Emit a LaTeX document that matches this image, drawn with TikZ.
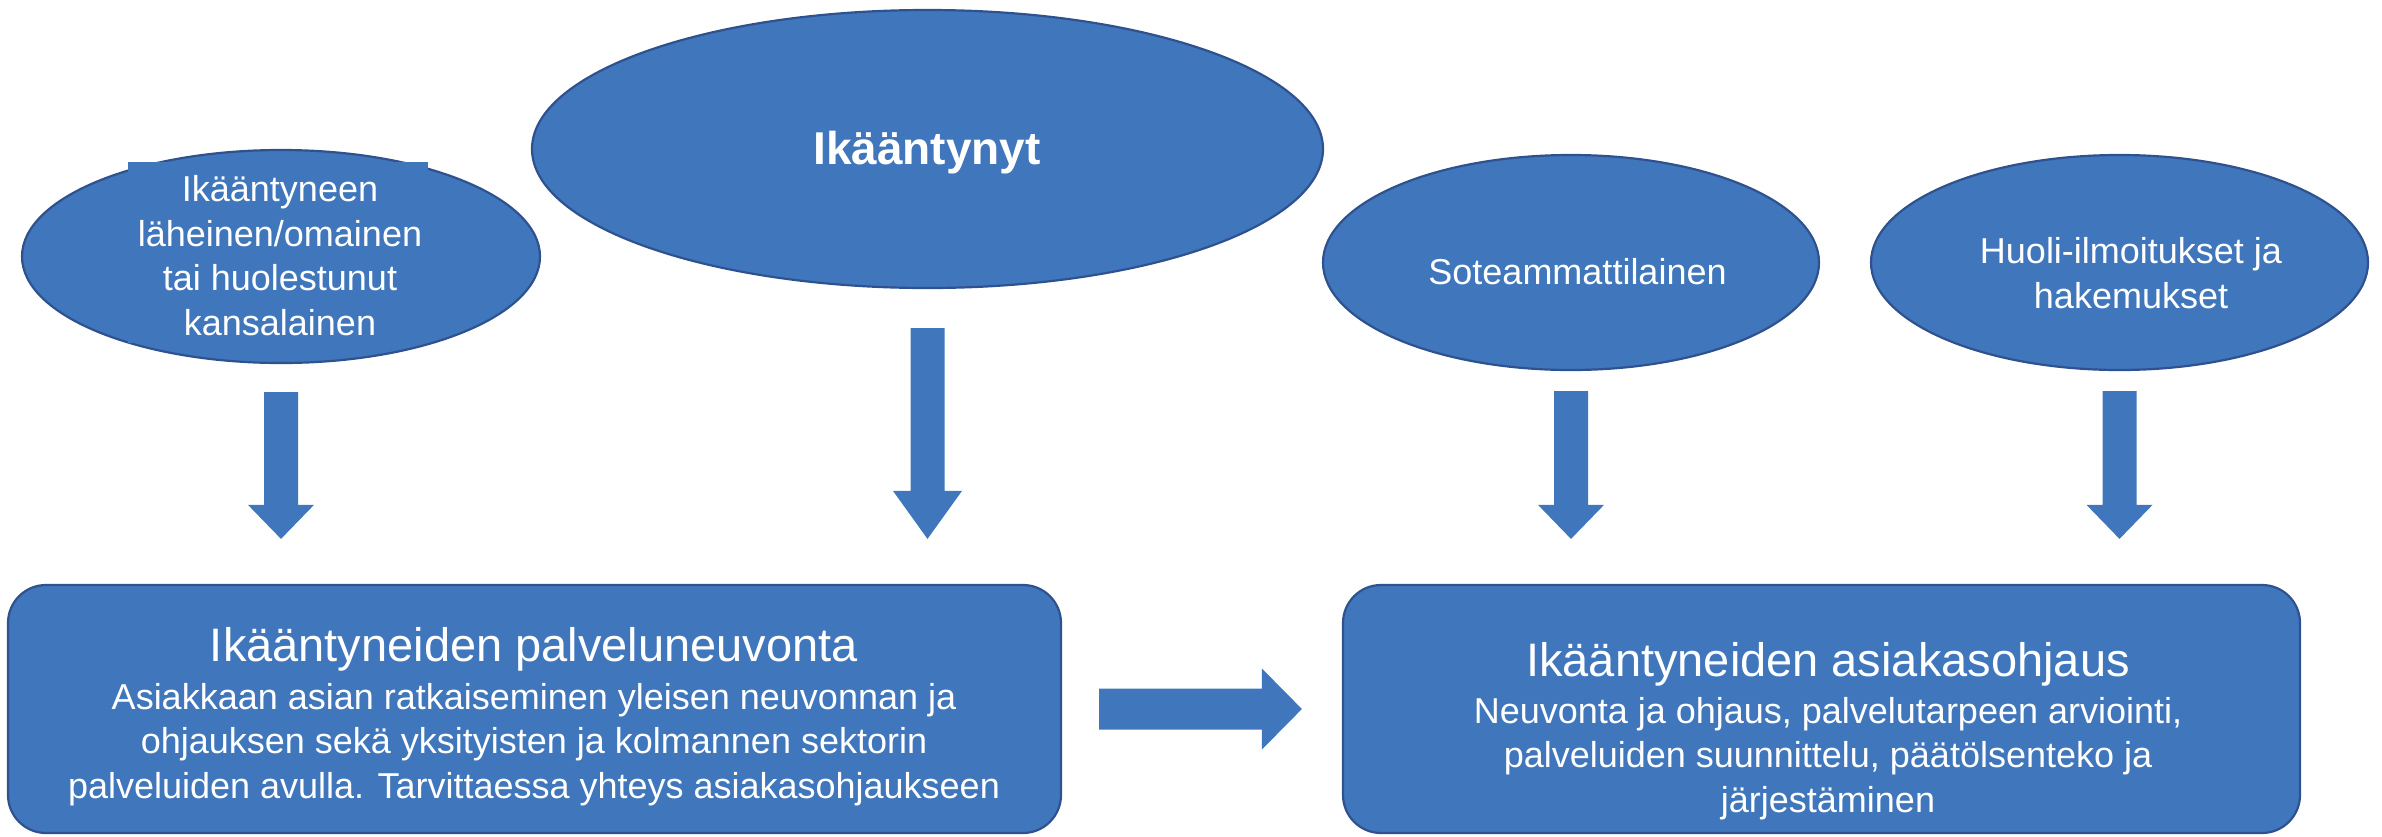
\documentclass[tikz,border=0pt]{standalone}
\usepackage{fontspec}
\setmainfont{Liberation Sans}
\usetikzlibrary{shapes.geometric,calc}
\definecolor{fillblue}{RGB}{63,118,188}
\definecolor{edgeblue}{RGB}{47,82,143}
\tikzset{
  shapefill/.style={fill=fillblue, draw=edgeblue, line width=2.2pt},
  oval/.style={shapefill, ellipse, inner sep=0pt},
  panel/.style={shapefill, rectangle, rounded corners=38pt, inner sep=0pt},
  frame/.style={fill=fillblue, rectangle, inner sep=0pt},
  txt/.style={text=white, align=center, inner sep=0pt, font=\fontsize{36}{44.5}\selectfont},
  blockarrow/.style={fill=fillblue},
}
% #1 start, #2 tip, #3 shaft half width, #4 head half width, #5 head length
\newcommand{\vblockarrow}[5]{%
  \fill[blockarrow] ($(#1)+(-#3,0)$) -- ($(#2)+(-#3,-#5)$) -- ($(#2)+(-#4,-#5)$) -- (#2)
    -- ($(#2)+(#4,-#5)$) -- ($(#2)+(#3,-#5)$) -- ($(#1)+(#3,0)$) -- cycle;}
\newcommand{\hblockarrow}[5]{%
  \fill[blockarrow] ($(#1)+(0,-#3)$) -- ($(#2)+(-#5,-#3)$) -- ($(#2)+(-#5,-#4)$) -- (#2)
    -- ($(#2)+(-#5,#4)$) -- ($(#2)+(-#5,#3)$) -- ($(#1)+(0,#3)$) -- cycle;}
\begin{document}
\begin{tikzpicture}[x=1pt,y=-1pt]
\useasboundingbox (0,0) rectangle (2382,836);

% source ellipses
\node[oval, minimum width=518pt, minimum height=213pt] (lel) at (281,256.5) {};
\node[oval, minimum width=791pt, minimum height=278pt] (cel) at (927.5,149) {};
\node[oval, minimum width=496pt, minimum height=215pt] (sel) at (1571,262.5) {};
\node[oval, minimum width=497pt, minimum height=215pt] (hel) at (2119.5,262.5) {};

% text frame in left ellipse
\node[frame, minimum width=300pt, minimum height=181pt] (lframe) at (278,252.5) {};

% texts of the ellipses (base anchor = baseline of the last line)
\node[txt, anchor=base] (ltext) at (280,335) {Ikääntyneen\\läheinen/omainen\\tai huolestunut\\kansalainen};
\node[txt, anchor=base, font=\bfseries\fontsize{46}{46}\selectfont] (ctext) at (927,164) {Ikääntynyt};
\node[txt, anchor=base] (stext) at (1577.5,284) {Soteammattilainen};
\node[txt, anchor=base] (htext) at (2131,308) {Huoli-ilmoitukset ja\\hakemukset};

% bottom panels
\node[panel, minimum width=1053pt, minimum height=248pt] (lbox) at (534.5,709) {};
\node[panel, minimum width=957pt, minimum height=248pt] (rbox) at (1821.5,709) {};

\node[txt, anchor=base] (lboxtext) at (534,798) {{\fontsize{47}{47}\selectfont Ikääntyneiden palveluneuvonta}\\[3.5pt]
  Asiakkaan asian ratkaiseminen yleisen neuvonnan ja\\
  ohjauksen sekä yksityisten ja kolmannen sektorin\\
  palveluiden avulla. Tarvittaessa yhteys asiakasohjaukseen};
\node[txt, anchor=base] (rboxtext) at (1828,812) {{\fontsize{47}{47}\selectfont Ikääntyneiden asiakasohjaus}\\[2.5pt]
  Neuvonta ja ohjaus, palvelutarpeen arviointi,\\
  palveluiden suunnittelu, päätölsenteko ja\\
  järjestäminen};

% arrow end points
\coordinate (a1s) at ($(lel.south)+(0,28)$);
\coordinate (a1e) at ($(lel.south |- lbox.north)+(0,-45)$);
\coordinate (a2s) at ($(cel.south)+(0,39)$);
\coordinate (a2e) at ($(cel.south |- lbox.north)+(0,-45)$);
\coordinate (a3s) at ($(sel.south)+(0,20)$);
\coordinate (a3e) at ($(sel.south |- rbox.north)+(0,-45)$);
\coordinate (a4s) at ($(hel.south)+(0,20)$);
\coordinate (a4e) at ($(hel.south |- rbox.north)+(0,-45)$);
\coordinate (a5s) at ($(lbox.east)+(37,0)$);
\coordinate (a5e) at ($(rbox.west)+(-40,0)$);

\vblockarrow{a1s}{a1e}{17}{33}{34}
\vblockarrow{a2s}{a2e}{17}{34.5}{48}
\vblockarrow{a3s}{a3e}{17}{33}{34}
\vblockarrow{a4s}{a4e}{17}{33}{34}
\hblockarrow{a5s}{a5e}{20.5}{40.5}{40}
\end{tikzpicture}
\end{document}
